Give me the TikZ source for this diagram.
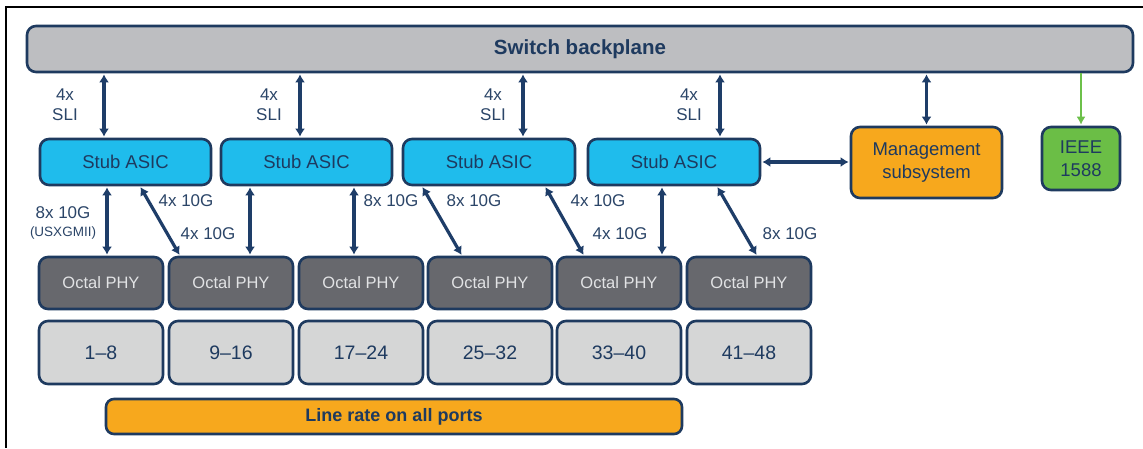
\documentclass[tikz,border=0pt]{standalone}
\usepackage{fontspec}
\setmainfont{Liberation Sans}
\usetikzlibrary{arrows.meta}
\definecolor{navy}{HTML}{1E3A5F}
\definecolor{arrowc}{HTML}{1E3D68}
\definecolor{labc}{HTML}{2B4568}
\definecolor{bpfill}{HTML}{BDBEC1}
\definecolor{asicfill}{HTML}{1FBCEC}
\definecolor{orangef}{HTML}{F7A81D}
\definecolor{greenf}{HTML}{6BBE46}
\definecolor{phyfill}{HTML}{67686D}
\definecolor{phytext}{HTML}{E2E3E5}
\definecolor{portfill}{HTML}{D5D6D6}
\definecolor{greenarrow}{HTML}{6CC04A}
\tikzset{
  box/.style={draw=navy, line width=2.6pt, rounded corners=9pt, inner sep=0pt, text=navy, align=center},
  bpbox/.style={box, fill=bpfill, font=\fontsize{20.5}{24}\selectfont\bfseries},
  asicbox/.style={box, fill=asicfill, minimum height=46pt, font=\fontsize{18.5}{22}\selectfont},
  mgbox/.style={box, fill=orangef, font=\fontsize{18.5}{23}\selectfont},
  iebox/.style={box, fill=greenf, font=\fontsize{18.5}{23}\selectfont},
  phybox/.style={box, fill=phyfill, text=phytext, minimum width=124pt, minimum height=52pt, font=\fontsize{16.5}{20}\selectfont},
  portbox/.style={box, fill=portfill, minimum width=124pt, minimum height=63pt, font=\fontsize{19.5}{22}\selectfont},
  lrbox/.style={box, fill=orangef, rounded corners=8pt, font=\fontsize{18}{22}\selectfont\bfseries},
  dbl/.style={draw=arrowc, line width=3.2pt, {Latex[length=8pt,width=10pt]}-{Latex[length=8pt,width=10pt]}, shorten <=1pt, shorten >=1pt},
  lab/.style={text=labc, inner sep=0pt, font=\fontsize{17}{20}\selectfont, align=center},
  smalllab/.style={text=labc, inner sep=0pt, font=\fontsize{13.5}{16}\selectfont},
}
\begin{document}
\begin{tikzpicture}[x=1pt,y=-1pt]
\useasboundingbox (0,0) rectangle (1143,448);
\fill[white] (0,0) rectangle (1143,448);
% frame
\draw[black, line width=2.6pt] (1143,7) -- (6,7) -- (6,448);

% backplane
\node[bpbox, minimum width=1106pt, minimum height=46pt] (bp) at (580,49) {Switch backplane};

% ASICs
\node[asicbox, minimum width=171pt] (a1) at (125.5,162) {Stub ASIC};
\node[asicbox, minimum width=171pt] (a2) at (306.5,162) {Stub ASIC};
\node[asicbox, minimum width=172pt] (a3) at (489,162) {Stub ASIC};
\node[asicbox, minimum width=172pt] (a4) at (674,162) {Stub ASIC};

% management and IEEE
\node[mgbox, minimum width=151pt, minimum height=71pt] (mg) at (926.5,162.5) {Management\\subsystem};
\node[iebox, minimum width=78pt, minimum height=63pt] (ie) at (1081,158.5) {IEEE\\1588};

% PHYs
\foreach \i/\x in {1/101,2/231,3/361,4/490,5/619,6/749}{
  \node[phybox] (p\i) at (\x,283) {Octal PHY};
}
% ports
\foreach \i/\x/\t in {1/101/1–8,2/231/9–16,3/361/17–24,4/490/25–32,5/619/33–40,6/749/41–48}{
  \node[portbox] (q\i) at (\x,352.5) {\t};
}
% line rate
\node[lrbox, minimum width=576pt, minimum height=35pt] (lr) at (394,416.5) {Line rate on all ports};

% SLI arrows
\draw[dbl] ([xshift=-21.5pt]a1.north) -- ([xshift=-21.5pt]a1.north |- bp.south);
\draw[dbl] ([xshift=-6.5pt]a2.north) -- ([xshift=-6.5pt]a2.north |- bp.south);
\draw[dbl] ([xshift=34pt]a3.north) -- ([xshift=34pt]a3.north |- bp.south);
\draw[dbl] ([xshift=46pt]a4.north) -- ([xshift=46pt]a4.north |- bp.south);
\node[lab] (s1) at (65,105) {4x\\SLI};
\node[lab] (s2) at (269,105) {4x\\SLI};
\node[lab] (s3) at (493,105) {4x\\SLI};
\node[lab] (s4) at (689,105) {4x\\SLI};

% management arrows
\draw[dbl] (mg.north) -- (mg.north |- bp.south);
\draw[dbl] (a4.east) -- (a4.east -| mg.west);
\draw[draw=greenarrow, line width=2.6pt, -{Latex[length=8pt,width=9pt]}, shorten >=1pt] (ie.north |- bp.south) -- (ie.north);

% ASIC to PHY arrows
\draw[dbl] ([xshift=-18.5pt]a1.south) -- ([xshift=-18.5pt]a1.south |- p1.north);
\draw[dbl] ([xshift=14.5pt]a1.south) -- ([xshift=-51pt]p2.north);
\draw[dbl] ([xshift=-56.5pt]a2.south) -- ([xshift=-56.5pt]a2.south |- p2.north);
\draw[dbl] ([xshift=47.5pt]a2.south) -- ([xshift=47.5pt]a2.south |- p3.north);
\draw[dbl] ([xshift=-67pt]a3.south) -- ([xshift=-28pt]p4.north);
\draw[dbl] ([xshift=56pt]a3.south) -- ([xshift=-35pt]p5.north);
\draw[dbl] ([xshift=-12pt]a4.south) -- ([xshift=-12pt]a4.south |- p5.north);
\draw[dbl] ([xshift=43pt]a4.south) -- ([xshift=8pt]p6.north);

% labels
\node[lab] (l1) at (63,213) {8x 10G};
\node[smalllab] (l1b) at (63,233) {(USXGMII)};
\node[lab] (l2) at (186,201) {4x 10G};
\node[lab] (l3) at (208,234) {4x 10G};
\node[lab] (l4) at (391,201) {8x 10G};
\node[lab] (l5) at (474,201) {8x 10G};
\node[lab] (l6) at (598,201) {4x 10G};
\node[lab] (l7) at (620,234) {4x 10G};
\node[lab] (l8) at (790,234) {8x 10G};
\end{tikzpicture}
\end{document}
